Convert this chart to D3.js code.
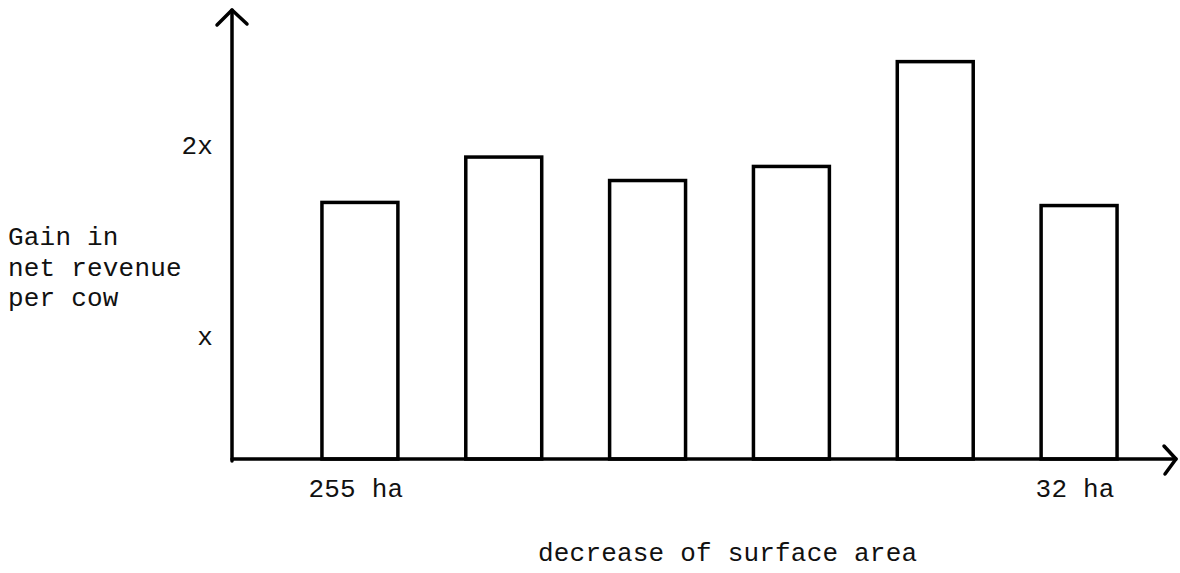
<!DOCTYPE html>
<html>
<head>
<meta charset="utf-8">
<script src="https://cdn.jsdelivr.net/npm/d3@7"></script>
<style>
  body { margin: 0; background: #fff; }
  text { font-family: "Liberation Mono", "Courier New", monospace; font-size: 26px; letter-spacing: 0.2px; fill: #111; }
</style>
</head>
<body>
<div id="chart"></div>
<script>
// farms, ordered by decreasing surface area
var farms = ["f1", "f2", "f3", "f4", "f5", "f6"];
var farmLabels = ["255 ha", "", "", "", "", "32 ha"];
// gain in net revenue per cow, in units of "x"
var gain = [1.64, 1.93, 1.78, 1.87, 2.54, 1.62];
var yTickValues = [0.78, 2.0];
var yTickLabels = ["x", "2x"];
var yTitle = ["Gain in", "net revenue", "per cow"];
var xTitle = "decrease of surface area";

var svgWidth = 1180;
var svgHeight = 573;

var svg = d3.select("#chart")
    .append("svg")
    .attr("width", svgWidth)
    .attr("height", svgHeight);

var axisX0 = 232;
var baseY = 459;

var x = d3.scaleBand()
    .domain(farms)
    .range([288, 1151])
    .paddingInner(0.472)
    .paddingOuter(0.236);

var y = d3.scaleLinear()
    .domain([0, 2.87])
    .range([baseY, 10]);

// bars
svg.append("g")
    .selectAll("rect")
    .data(farms)
    .enter()
    .append("rect")
        .attr("x", d => x(d))
        .attr("y", (d, i) => y(gain[i]))
        .attr("width", x.bandwidth())
        .attr("height", (d, i) => y(0) - y(gain[i]))
        .attr("fill", "none")
        .attr("stroke", "#000")
        .attr("stroke-width", 3.5);

// axes lines with open arrow heads
var axes = svg.append("g")
    .attr("fill", "none")
    .attr("stroke", "#000")
    .attr("stroke-width", 3.5)
    .attr("stroke-linecap", "round")
    .attr("stroke-linejoin", "round");

axes.append("path")
    .attr("d", `M${axisX0},${y(0) + 2}L${axisX0},${y(2.87)}`);
axes.append("path")
    .attr("d", `M${axisX0 - 15},${y(2.87) + 15}L${axisX0},${y(2.87)}L${axisX0 + 15},${y(2.87) + 14}`);

var xEnd = 1176;
axes.append("path")
    .attr("d", `M${axisX0},${baseY}L${xEnd},${baseY}`);
axes.append("path")
    .attr("d", `M${xEnd - 12},${baseY - 13}L${xEnd},${baseY}L${xEnd - 11},${baseY + 15}`);

// y tick labels
var yAxis = svg.append("g")
    .attr("transform", `translate(${axisX0},0)`)
    .call(d3.axisLeft(y)
        .tickValues(yTickValues)
        .tickFormat((d, i) => yTickLabels[i])
        .tickSize(0)
        .tickPadding(19));
yAxis.select(".domain").remove();
yAxis.selectAll("text")
    .attr("font-family", null)
    .attr("font-size", null)
    .attr("fill", null)
    .attr("dy", "0.3em");

// x tick labels (only first and last farm are named)
var xAxis = svg.append("g")
    .attr("transform", `translate(-4,${baseY})`)
    .call(d3.axisBottom(x)
        .tickFormat((d, i) => farmLabels[i])
        .tickSize(0)
        .tickPadding(30));
xAxis.select(".domain").remove();
xAxis.selectAll("text")
    .attr("font-family", null)
    .attr("font-size", null)
    .attr("fill", null)
    .attr("dy", "0.3em");

// titles
svg.append("g")
    .selectAll("text")
    .data(yTitle)
    .enter()
    .append("text")
        .attr("x", 8)
        .attr("y", (d, i) => 245 + i * 30.5)
        .text(d => d);

svg.append("text")
    .attr("x", 538)
    .attr("y", 561)
    .text(xTitle);
</script>
</body>
</html>
